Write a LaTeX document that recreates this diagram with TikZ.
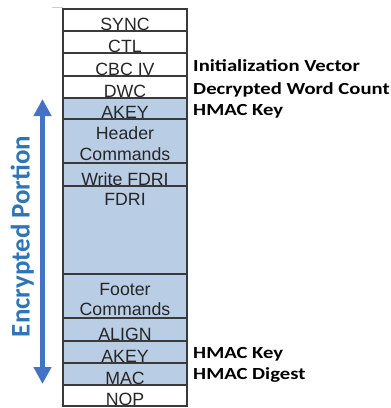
\documentclass[tikz,border=0pt]{standalone}
\usepackage{fontspec}
\setmainfont{Liberation Sans}
\newfontfamily\calfont{Carlito}
\usetikzlibrary{arrows.meta}
\definecolor{rowblue}{HTML}{B9CDE5}
\definecolor{edge}{HTML}{3A3A3A}
\definecolor{txt}{HTML}{262626}
\definecolor{arrowblue}{HTML}{4472C4}
\definecolor{labelblue}{HTML}{2E75B6}
\begin{document}
\begin{tikzpicture}[x=1bp,y=-1bp,
  row/.style={draw=edge, line width=1.4bp, minimum width=124bp, anchor=north west, inner sep=0pt, outer sep=0pt},
  plainrow/.style={row, fill=white},
  encrow/.style={row, fill=rowblue},
  rtext/.style={font=\fontsize{17.8}{20}\selectfont, text=txt, anchor=base, inner sep=0pt},
  side/.style={font=\calfont\bfseries\fontsize{17}{20}\selectfont, anchor=base west, inner sep=0pt, xscale=1.22},
]
\useasboundingbox (0,0) rectangle (391,408);
\draw[black!20, line width=0.8bp] (52,7.3) -- (63,7.3);
% rows
\node[plainrow, minimum height=22bp] (sync) at (63,9) {};
\node[plainrow, minimum height=22bp] (ctl) at (63,31) {};
\node[plainrow, minimum height=23bp] (cbc) at (63,53) {};
\node[plainrow, minimum height=22bp] (dwc) at (63,76) {};
\node[encrow, minimum height=21bp] (akey1) at (63,98) {};
\node[encrow, minimum height=44bp] (hdr) at (63,119) {};
\node[encrow, minimum height=23bp] (wfdri) at (63,163) {};
\node[encrow, minimum height=88bp] (fdri) at (63,186) {};
\node[encrow, minimum height=44bp] (ftr) at (63,274) {};
\node[encrow, minimum height=23bp] (align) at (63,318) {};
\node[encrow, minimum height=22bp] (akey2) at (63,341) {};
\node[encrow, minimum height=22bp] (mac) at (63,363) {};
\node[plainrow, minimum height=21bp] (nop) at (63,385) {};
% row texts
\node[rtext] (tsync) at (125,30) {SYNC};
\node[rtext] (tctl) at (125,52) {CTL};
\node[rtext] (tcbc) at (125,75) {CBC IV};
\node[rtext] (tdwc) at (125,97) {DWC};
\node[rtext] (takey1) at (125,118.5) {AKEY};
\node[rtext] (thdr1) at (125,139) {Header};
\node[rtext] (thdr2) at (125,160) {Commands};
\node[rtext] (twfdri) at (125,185) {Write FDRI};
\node[rtext] (tfdri) at (125,205) {FDRI};
\node[rtext] (tftr1) at (125,295) {Footer};
\node[rtext] (tftr2) at (125,315.5) {Commands};
\node[rtext] (talign) at (125,340) {ALIGN};
\node[rtext] (takey2) at (125,362) {AKEY};
\node[rtext] (tmac) at (125,384) {MAC};
\node[rtext] (tnop) at (125,405) {NOP};
% side labels
\node[side] (liv) at (193,71.5) {Initialization Vector};
\node[side] (ldwc) at (193,94) {Decrypted Word Count};
\node[side] (lkey1) at (193,115.7) {HMAC Key};
\node[side] (lkey2) at (193,358.5) {HMAC Key};
\node[side] (ldig) at (193,379) {HMAC Digest};
% encrypted portion
\coordinate (atop) at (42.5,99);
\coordinate (abot) at (42.5,384);
\draw[arrowblue, line width=4.5bp, {Triangle[width=17bp,length=17bp]}-{Triangle[width=17bp,length=17bp]}] (atop) -- (abot);
\node[font=\calfont\bfseries\fontsize{27}{30}\selectfont, text=labelblue, rotate=90, anchor=base, inner sep=0pt] (enc) at (29.5,236.5) {Encrypted Portion};
\end{tikzpicture}
\end{document}
